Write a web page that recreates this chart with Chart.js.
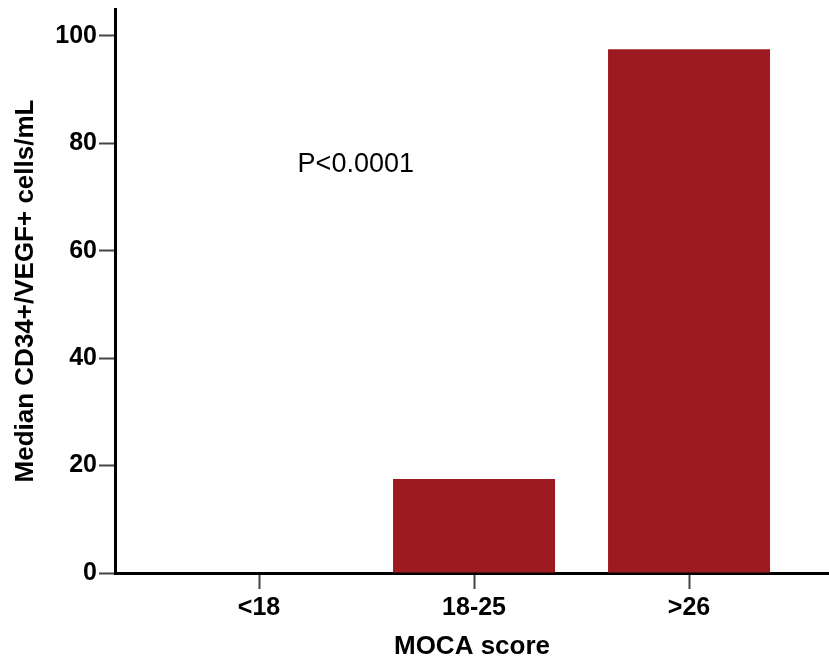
<!DOCTYPE html>
<html>
<head>
<meta charset="utf-8">
<script src="https://cdn.jsdelivr.net/npm/chart.js@4/dist/chart.umd.min.js"></script>
<style>
  html, body { margin: 0; padding: 0; background: #fff; }
  #wrap { width: 829px; height: 662px; }
</style>
</head>
<body>
<div id="wrap"><canvas id="MocaChart" width="829" height="662"></canvas></div>
<script>
// chart values
var categories = ["<18", "18-25", ">26"];
var medianCells = [0, 17.5, 97.5];
var yTicks = [0, 20, 40, 60, 80, 100];
var pLabel = "P<0.0001";
var pPos = [0.45, 76];

var fontFamily = "'Liberation Sans', Arial, sans-serif";

// draws the p-value text at a data position
var pValuePlugin = {
  id: "pValue",
  afterDraw: function (chart) {
    var ctx = chart.ctx;
    var x = chart.scales.x.getPixelForValue(pPos[0]);
    var y = chart.scales.y.getPixelForValue(pPos[1]);
    ctx.save();
    ctx.font = "27px " + fontFamily;
    ctx.fillStyle = "#000";
    ctx.textAlign = "center";
    ctx.textBaseline = "middle";
    ctx.fillText(pLabel, x, y);
    ctx.restore();
  },
};

var ctx = document.getElementById("MocaChart").getContext("2d");
var myBarChart = new Chart(ctx, {
  type: "bar",
  data: {
    datasets: [
      {
        label: "Median CD34+/VEGF+ cells/mL",
        data: categories.map(function (c, i) {
          return { x: i, y: medianCells[i] };
        }),
        backgroundColor: "#9d1b20",
        borderWidth: 0,
        categoryPercentage: 1,
        barPercentage: 0.7535,
      },
    ],
  },
  options: {
    responsive: false,
    animation: false,
    layout: { padding: { top: 9, right: 0, left: 0, bottom: 0 } },
    plugins: {
      legend: { display: false },
      tooltip: { enabled: false },
    },
    scales: {
      x: {
        type: "linear",
        min: -0.67,
        max: 2.651,
        offset: false,
        grid: {
          offset: false,
          drawOnChartArea: false,
          tickLength: 16,
          tickColor: "#444",
          tickWidth: 2,
        },
        border: { color: "#000", width: 3 },
        afterBuildTicks: function (scale) {
          scale.ticks = categories.map(function (c, i) {
            return { value: i };
          });
        },
        ticks: {
          callback: function (v) {
            return categories[v];
          },
          color: "#000",
          padding: 4,
          maxRotation: 0,
          font: { family: fontFamily, size: 25, weight: "bold" },
        },
        title: {
          display: true,
          text: "MOCA score",
          color: "#000",
          font: { family: fontFamily, size: 26, weight: "bold" },
          padding: { top: 0, bottom: 0 },
        },
        afterFit: function (scale) {
          scale.height = 89;
          scale.paddingLeft = 0;
          scale.paddingRight = 0;
        },
      },
      y: {
        min: 0,
        max: 105,
        grid: {
          drawOnChartArea: false,
          tickLength: 16,
          tickColor: "#444",
          tickWidth: 2,
        },
        border: { color: "#000", width: 3 },
        afterBuildTicks: function (scale) {
          scale.ticks = yTicks.map(function (v) {
            return { value: v };
          });
        },
        ticks: {
          color: "#000",
          padding: 2,
          font: { family: fontFamily, size: 25, weight: "bold" },
        },
        title: {
          display: true,
          text: "Median CD34+/VEGF+ cells/mL",
          color: "#000",
          font: { family: fontFamily, size: 26, weight: "bold" },
          padding: { top: 10, bottom: 0 },
        },
        afterFit: function (scale) {
          scale.width = 115;
          scale.paddingTop = 0;
          scale.paddingBottom = 0;
        },
      },
    },
  },
  plugins: [pValuePlugin],
});
</script>
</body>
</html>
